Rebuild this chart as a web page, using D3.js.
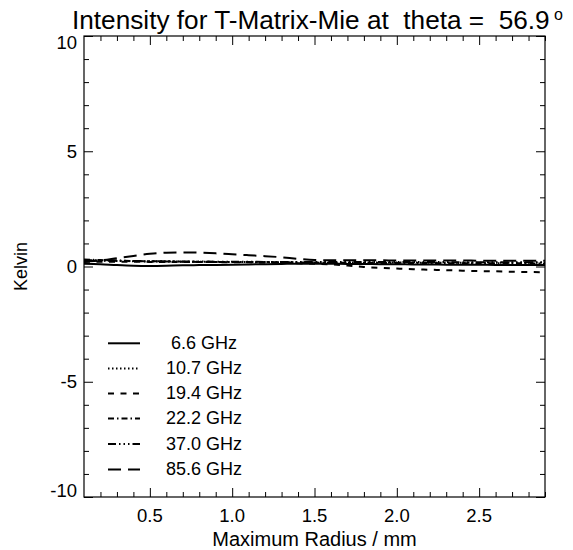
<!DOCTYPE html>
<html>
<head>
<meta charset="utf-8">
<script src="https://cdn.jsdelivr.net/npm/d3@7"></script>
<style>
  html, body { margin: 0; padding: 0; background: #fff; }
  svg { display: block; font-family: "Liberation Sans", Arial, Helvetica, sans-serif; }
</style>
</head>
<body>
<svg id="chart" width="573" height="550"></svg>
<script>
// ---- data ----
const radius = [0.1,0.2,0.3,0.4,0.5,0.6,0.7,0.8,0.9,1.0,1.1,1.2,1.3,1.4,1.5,1.6,1.7,1.8,1.9,2.0,2.1,2.2,2.3,2.4,2.5,2.6,2.7,2.8,2.9];
const freqLabels = ["6.6 GHz", "10.7 GHz", "19.4 GHz", "22.2 GHz", "37.0 GHz", "85.6 GHz"];
const t066 = [0.12,0.10,0.06,0.03,0.02,0.03,0.05,0.06,0.07,0.08,0.09,0.10,0.11,0.12,0.12,0.12,0.11,0.11,0.10,0.10,0.09,0.09,0.08,0.08,0.08,0.07,0.07,0.07,0.07];
const t107 = [0.26,0.25,0.24,0.23,0.22,0.22,0.21,0.21,0.20,0.20,0.20,0.19,0.19,0.18,0.18,0.18,0.17,0.17,0.17,0.17,0.17,0.16,0.16,0.16,0.16,0.16,0.16,0.16,0.16];
const t194 = [0.20,0.21,0.21,0.21,0.20,0.20,0.20,0.19,0.19,0.18,0.18,0.17,0.16,0.14,0.12,0.09,0.04,-0.02,-0.06,-0.09,-0.12,-0.14,-0.16,-0.18,-0.20,-0.21,-0.23,-0.24,-0.25];
const t222 = [0.30,0.28,0.26,0.24,0.23,0.22,0.21,0.20,0.20,0.19,0.19,0.18,0.18,0.17,0.17,0.16,0.16,0.16,0.15,0.15,0.15,0.15,0.14,0.14,0.14,0.14,0.14,0.13,0.13];
const t370 = [0.28,0.27,0.25,0.24,0.23,0.23,0.22,0.22,0.21,0.21,0.21,0.20,0.20,0.20,0.20,0.19,0.19,0.19,0.19,0.19,0.19,0.19,0.19,0.18,0.18,0.18,0.18,0.18,0.18];
const t856 = [0.22,0.26,0.36,0.46,0.55,0.60,0.61,0.60,0.57,0.53,0.49,0.45,0.40,0.33,0.28,0.27,0.27,0.27,0.27,0.26,0.26,0.26,0.26,0.26,0.25,0.25,0.25,0.25,0.25];
const xTicks = [0.5, 1.0, 1.5, 2.0, 2.5];
const xTickLabels = ["0.5", "1.0", "1.5", "2.0", "2.5"];
const yTicks = [-10, -5, 0, 5, 10];
const yTickLabels = ["-10", "-5", "0", "5", "10"];
const titleText = "Intensity for T-Matrix-Mie at  theta =  56.9";
const xTitle = "Maximum Radius / mm";
const yTitle = "Kelvin";

// ---- styles ----
const dashes = [null, "1.5,2.5", "6,6.5", "6,3,1.5,3", "8,3,1.5,3,1.5,3,1.5,3", "13,7"];
const seriesValues = [t066, t107, t194, t222, t370, t856];

const pL = 84, pR = 545, pT = 36, pB = 497;
const svg = d3.select("#chart");

const x = d3.scaleLinear().domain([0.1, 2.9]).range([pL, pR]);
const y = d3.scaleLinear().domain([-10, 10]).range([pB, pT]);

const minorX = d3.range(2, 30).map(d => d / 10).filter(v => !xTicks.some(t => Math.abs(t - v) < 1e-9));
const minorY = d3.range(-9, 10).filter(v => !yTicks.includes(v));

function ax(gen, pos, ticks, size) {
  const g = svg.append("g").attr("transform", pos)
    .call(gen.tickValues(ticks).tickSize(size).tickFormat(""));
  g.select(".domain").remove();
  g.selectAll("line").attr("stroke", "#000").attr("stroke-width", 1);
  return g;
}
// inward ticks on all four sides
ax(d3.axisBottom(x), `translate(0,${pB})`, xTicks, -9);
ax(d3.axisBottom(x), `translate(0,${pB})`, minorX, -5);
ax(d3.axisTop(x), `translate(0,${pT})`, xTicks, -9);
ax(d3.axisTop(x), `translate(0,${pT})`, minorX, -5);
ax(d3.axisLeft(y), `translate(${pL},0)`, yTicks, -9);
ax(d3.axisLeft(y), `translate(${pL},0)`, minorY, -5);
ax(d3.axisRight(y), `translate(${pR},0)`, yTicks, -9);
ax(d3.axisRight(y), `translate(${pR},0)`, minorY, -5);

// frame
svg.append("rect").attr("x", pL).attr("y", pT)
  .attr("width", pR - pL).attr("height", pB - pT)
  .attr("fill", "none").attr("stroke", "#000").attr("stroke-width", 1.2);

// tick labels
svg.append("g").selectAll("text").data(xTicks).join("text")
  .attr("x", d => x(d)).attr("y", 522)
  .attr("text-anchor", "middle").attr("font-size", 18.5)
  .text((d, i) => xTickLabels[i]);

svg.append("g").selectAll("text").data(yTicks).join("text")
  .attr("x", 77).attr("y", d => d === 10 ? y(d) + 13 : (d === -10 ? y(d) - 0.5 : y(d) + 6.5))
  .attr("text-anchor", "end").attr("font-size", 18.5)
  .text((d, i) => yTickLabels[i]);

// axis titles
svg.append("text").attr("x", (pL + pR) / 2).attr("y", 546)
  .attr("text-anchor", "middle").attr("font-size", 20).text(xTitle);
svg.append("text").attr("transform", `translate(27,${y(0)}) rotate(-90)`)
  .attr("text-anchor", "middle").attr("font-size", 18).text(yTitle);

// title
svg.append("text").attr("x", 72).attr("y", 29).attr("font-size", 26.2)
  .attr("xml:space", "preserve").style("white-space", "pre").text(titleText);
svg.append("text").attr("x", 554).attr("y", 20).attr("font-size", 16).text("o");

// lines
const line = d3.line().x((d, i) => x(radius[i])).y(d => y(d)).curve(d3.curveMonotoneX);
svg.append("g").selectAll("path").data(seriesValues).join("path")
  .attr("d", d => line(d))
  .attr("fill", "none").attr("stroke", "#000").attr("stroke-width", 2)
  .attr("stroke-dasharray", (d, i) => dashes[i]);

// legend
const legY = [343.3, 368.5, 393.5, 418.5, 444, 469.5];
const leg = svg.append("g").selectAll("g").data(freqLabels).join("g");
leg.append("line")
  .attr("x1", 108).attr("x2", 140)
  .attr("y1", (d, i) => legY[i]).attr("y2", (d, i) => legY[i])
  .attr("stroke", "#000").attr("stroke-width", 2)
  .attr("stroke-dasharray", (d, i) => dashes[i]);
leg.append("text")
  .attr("x", d => d.length < 8 ? 171 : 166)
  .attr("y", (d, i) => legY[i] + 5.5)
  .attr("font-size", 18)
  .text(d => d);
</script>
</body>
</html>
